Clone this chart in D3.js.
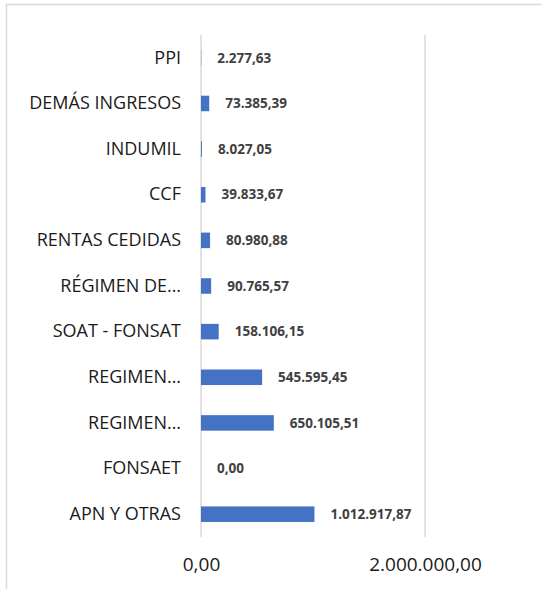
<!DOCTYPE html>
<html>
<head>
<meta charset="utf-8">
<script src="https://cdn.jsdelivr.net/npm/d3@7"></script>
<style>
  body { margin: 0; background: #fff; }
  svg { display: block; font-family: "Open Sans", "Noto Sans", sans-serif; }
</style>
</head>
<body>
<div id="chart"></div>
<script>
// Categories from top to bottom
const categories = ["PPI", "DEMÁS INGRESOS", "INDUMIL", "CCF", "RENTAS CEDIDAS", "RÉGIMEN DE…",
  "SOAT - FONSAT", "REGIMEN…", "REGIMEN…", "FONSAET", "APN Y OTRAS"];
const values = [2277.63, 73385.39, 8027.05, 39833.67, 80980.88, 90765.57,
  158106.15, 545595.45, 650105.51, 0, 1012917.87];
const tickValues = [0, 2000000];

const width = 542, height = 589;
const margin = { top: 35, right: 117, bottom: 52, left: 201 };

const locale = d3.formatLocale({ decimal: ",", thousands: ".", grouping: [3], currency: ["$", ""] });
const fmt = locale.format(",.2f");

const svg = d3.select("#chart").append("svg")
  .attr("width", width)
  .attr("height", height);

// chart border
svg.append("rect")
  .attr("x", 6.5).attr("y", 4.5)
  .attr("width", width).attr("height", height)
  .attr("fill", "none")
  .attr("stroke", "#d9d9d9")
  .attr("stroke-width", 1.5);

const x = d3.scaleLinear()
  .domain([0, 2000000])
  .range([margin.left, width - margin.right]);

const y = d3.scaleBand()
  .domain(d3.range(categories.length))
  .range([margin.top, height - margin.bottom])
  .paddingInner(0.66)
  .paddingOuter(0.33);

// gridlines
svg.append("g")
  .selectAll("line")
  .data(tickValues)
  .join("line")
  .attr("x1", d => x(d)).attr("x2", d => x(d))
  .attr("y1", margin.top).attr("y2", height - margin.bottom)
  .attr("stroke", "#d9d9d9")
  .attr("stroke-width", 1.5);

// bars
svg.append("g")
  .selectAll("rect")
  .data(values)
  .join("rect")
  .attr("x", x(0))
  .attr("y", (d, i) => y(i))
  .attr("width", d => x(d) - x(0))
  .attr("height", y.bandwidth())
  .attr("fill", "#4472c4");

// value labels
svg.append("g")
  .selectAll("text")
  .data(values)
  .join("text")
  .attr("x", d => x(d) + 16)
  .attr("y", (d, i) => y(i) + y.bandwidth() / 2)
  .attr("dy", "0.35em")
  .attr("font-size", 13.5)
  .attr("font-weight", "bold")
  .attr("fill", "#404040")
  .text(d => fmt(d));

// category axis
const yAxis = svg.append("g")
  .attr("transform", `translate(${margin.left},0)`)
  .call(d3.axisLeft(y).tickSize(0).tickPadding(20).tickFormat(i => categories[i]));
yAxis.select(".domain").remove();
yAxis.selectAll("text")
  .attr("font-size", 18)
  .attr("font-family", "'Open Sans', 'Noto Sans', sans-serif")
  .attr("fill", "#1a1a1a");

// value axis
const xAxis = svg.append("g")
  .attr("transform", `translate(0,${height - margin.bottom})`)
  .call(d3.axisBottom(x).tickValues(tickValues).tickSize(0).tickPadding(21).tickFormat(fmt));
xAxis.select(".domain").remove();
xAxis.selectAll("text")
  .attr("font-size", 19)
  .attr("font-family", "'Open Sans', 'Noto Sans', sans-serif")
  .attr("fill", "#1a1a1a");
</script>
</body>
</html>
